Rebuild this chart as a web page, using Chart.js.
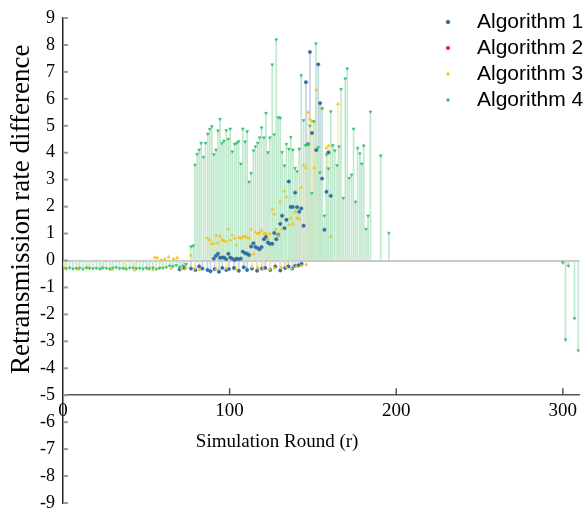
<!DOCTYPE html>
<html>
<head>
<meta charset="utf-8">
<script src="https://cdn.jsdelivr.net/npm/chart.js@4/dist/chart.umd.min.js"></script>
<style>
  html, body { margin: 0; padding: 0; background: #fff; }
  #wrap { position: relative; width: 584px; height: 512px; }
</style>
</head>
<body>
<div id="wrap"><canvas id="chart"></canvas></div>
<script>
// --- Data: [round, difference] ---
const labels = ['Algorithm 1', 'Algorithm 2', 'Algorithm 3', 'Algorithm 4'];
const xTitle = 'Simulation Round (r)';
const yTitle = 'Retransmission rate difference';
const xTicks = [0, 100, 200, 300];
const yTicks = [-9, -8, -7, -6, -5, -4, -3, -2, -1, 0, 1, 2, 3, 4, 5, 6, 7, 8, 9];

const alg1Points = [
    [70, -0.33], [72.8, -0.28], [76.8, -0.30], [79.5, -0.35], [81.7, -0.22], [83.7, -0.30],
    [86.7, -0.35], [88.5, -0.40], [91, -0.32], [93.6, -0.42], [95.6, -0.28], [98, -0.35],
    [99.6, -0.32], [102.6, -0.28], [105.5, -0.38], [108.5, -0.25], [110.5, -0.35], [113.4, -0.30],
    [116.5, -0.38], [119.4, -0.30], [121.4, -0.28], [124.4, -0.35], [127.4, -0.22], [130.4, -0.37],
    [133.3, -0.28], [135.3, -0.22], [137.5, -0.30], [139.3, -0.20], [141.3, -0.18], [143.2, -0.12],
    [90.5, 0.07], [91.7, 0.17], [93.0, 0.25], [94.2, 0.10], [95.4, 0.11], [96.6, 0.11],
    [97.9, 0.05], [99.2, 0.25], [100.4, 0.11], [101.6, 0.07], [103.0, 0.02], [104.2, 0.07],
    [105.4, 0.05], [106.7, 0.07], [107.9, 0.33], [109.3, 0.27], [110.5, 0.25], [111.7, 0.20],
    [112.9, 0.52], [114.3, 0.64], [115.5, 0.50], [116.8, 0.46], [118.0, 0.42], [119.2, 0.50],
    [120.6, 0.79], [121.8, 0.87], [123.0, 0.67], [124.2, 0.62], [125.6, 0.62], [126.8, 1.02],
    [128.0, 0.79], [129.2, 0.95], [130.4, 1.36], [131.5, 1.66], [132.9, 1.20], [134.1, 1.51],
    [135.5, 2.93], [136.7, 1.99], [137.9, 1.99], [139.3, 2.52], [140.5, 1.98], [141.8, 1.81],
    [143.0, 1.93], [144.4, 1.29], [145.8, 6.62], [147.0, 4.32], [148.2, 7.74], [149.4, 4.73],
    [152.0, 4.10], [153.2, 7.28], [154.3, 5.84], [155.5, 3.04], [156.9, 1.14], [158.1, 2.55],
    [159.3, 4.01], [160.7, 2.40]
];

const alg2Points = [];

const alg3Points = [
    [1, -0.30], [9, -0.33], [15, -0.28], [23, -0.31], [29, -0.34], [37, -0.30], [43, -0.36],
    [51, -0.32], [54, -0.35], [58, -0.26], [65, -0.30], [71, -0.30], [73.8, -0.28], [79, -0.30],
    [82, -0.35], [92, -0.32], [98, -0.30], [104, -0.34], [113.5, -0.25], [117, -0.27], [120, -0.30],
    [124, -0.33], [127, -0.28], [131, -0.26], [134, -0.24], [137, -0.30], [140, -0.22], [143, -0.20],
    [146, -0.15],
    [55, 0.12], [56.5, 0.10], [59, 0.02], [61, 0.06], [63.3, 0.13], [66.4, 0.06], [68.5, 0.10],
    [76.6, 0.19], [86.7, 0.83], [88.0, 0.76], [89.2, 0.62], [90.5, 0.64], [91.8, 0.93],
    [93.0, 0.65], [94.2, 0.90], [95.4, 0.77], [96.6, 0.73], [98.0, 0.71], [99.2, 1.16],
    [100.4, 0.76], [101.6, 0.94], [103.0, 0.83], [104.2, 0.58], [105.4, 0.86], [106.7, 0.83],
    [107.9, 0.88], [109.3, 0.90], [110.5, 0.86], [111.7, 0.83], [112.9, 1.16], [114.3, 0.24],
    [115.5, 1.05], [116.8, 0.99], [118.0, 1.04], [119.2, 1.12], [120.6, 0.99], [121.8, 1.01],
    [123.0, 0.81], [124.2, 0.99], [125.6, 1.90], [126.8, 1.72], [128.0, 1.16], [129.2, 0.93],
    [130.4, 2.18], [131.5, 1.18], [132.9, 2.58], [134.1, 2.37], [135.5, 1.32], [136.7, 1.57],
    [137.9, 1.36], [139.3, 1.81], [140.5, 1.57], [141.8, 1.54], [143.0, 2.71], [144.4, 3.55],
    [145.6, 3.45], [147.0, 5.50], [148.2, 5.24], [149.4, 5.17], [150.8, 3.44], [152.0, 6.33],
    [155.5, 5.65], [158.1, 4.18], [159.3, 4.27], [160.7, 0.89], [165.0, 5.81]
];

const alg4Points = [
    [0, -0.28], [2, -0.30], [4, -0.27], [6, -0.31], [8, -0.29], [10, -0.28], [12, -0.32],
    [14, -0.27], [16, -0.29], [18, -0.30], [20, -0.28], [22, -0.31], [24, -0.27], [26, -0.29],
    [28, -0.31], [30, -0.28], [32, -0.26], [34, -0.30], [36, -0.29], [38, -0.32], [40, -0.28],
    [42, -0.27], [44, -0.30], [46, -0.29], [48, -0.31], [50, -0.28], [52, -0.30], [54, -0.27],
    [56, -0.32], [58, -0.29], [60, -0.28], [62, -0.25], [64, -0.20], [66, -0.22], [68, -0.18],
    [70, -0.24], [72, -0.20], [74, -0.14],
    [76.8, 0.52], [78.2, 0.55], [79.2, 3.55], [80.5, 3.95], [81.7, 4.11], [82.9, 4.36],
    [84.3, 3.84], [85.5, 4.36], [86.9, 4.70], [88.1, 4.88], [89.3, 4.98], [90.5, 3.94],
    [91.8, 4.11], [93.0, 4.82], [94.2, 5.25], [95.4, 4.36], [96.6, 4.44], [98.0, 4.83],
    [99.2, 4.51], [100.4, 4.89], [101.6, 4.04], [103.0, 4.32], [104.2, 4.36], [105.4, 4.42],
    [106.7, 3.59], [107.9, 4.89], [109.3, 4.41], [110.5, 4.79], [111.7, 2.92], [112.9, 3.24],
    [114.3, 4.08], [115.5, 4.23], [116.8, 4.36], [118.0, 4.56], [119.2, 4.93], [120.6, 4.56],
    [121.8, 5.47], [123.0, 4.01], [124.2, 4.56], [125.6, 7.27], [126.8, 4.67], [128.0, 8.20],
    [129.2, 5.31], [130.4, 5.29], [131.5, 4.02], [132.9, 3.52], [134.1, 4.32], [135.5, 4.14],
    [136.7, 4.58], [137.9, 4.11], [139.3, 3.43], [140.5, 3.31], [141.8, 4.14], [143.0, 6.87],
    [144.4, 5.20], [145.6, 4.27], [147.0, 4.31], [148.2, 5.00], [149.4, 2.50], [150.6, 5.16],
    [151.8, 8.05], [153.2, 4.20], [154.2, 3.26], [155.6, 5.64], [156.9, 1.66], [158.2, 3.93],
    [159.3, 3.41], [160.7, 5.53], [161.9, 4.27], [163.1, 4.08], [164.5, 3.53], [165.7, 4.23],
    [166.9, 6.36], [168.2, 2.32], [169.4, 6.75], [170.6, 7.12], [171.8, 3.06], [173.2, 3.18],
    [174.4, 4.89], [175.6, 2.18], [176.8, 4.17], [178.2, 3.97], [179.3, 3.59], [180.5, 4.26],
    [181.9, 1.17], [183.1, 1.66], [184.5, 5.52], [190.7, 3.89], [195.6, 1.02],
    [300, -0.08], [301.6, -2.94], [303.3, -0.20], [307, -2.15], [309.3, -3.34]
];

// --- Styles ---
const serif = '"Liberation Serif", "Times New Roman", serif';
const sans = '"Liberation Sans", Arial, sans-serif';

// stemOrder: higher = drawn earlier (green stems end up on top)
const series = [
    { label: labels[0], points: alg1Points, color: '#2f6ea3', stem: '#c3d2e4', style: 'circle', rot: 0, stemOrder: 13 },
    { label: labels[1], points: alg2Points, color: '#e8231f', stem: '#f4b3b1', style: 'rect', rot: 0, stemOrder: 12 },
    { label: labels[2], points: alg3Points, color: '#f5c116', stem: '#fcebbd', style: 'triangle', rot: 0, stemOrder: 11 },
    { label: labels[3], points: alg4Points, color: '#33c06c', stem: '#bfe9cd', style: 'triangle', rot: 180, stemOrder: 10 },
];

const toXY = pts => pts.map(p => ({ x: p[0], y: p[1] }));

const stemSets = series.map(s => ({
    type: 'bar',
    label: s.label + ' stem',
    data: toXY(s.points),
    backgroundColor: s.stem,
    borderWidth: 0,
    barThickness: 1,
    grouped: false,
    order: s.stemOrder,
}));

const markerSets = series.map((s, i) => ({
    type: 'scatter',
    label: s.label,
    data: toXY(s.points),
    backgroundColor: s.color,
    borderColor: s.color,
    pointStyle: s.style,
    rotation: s.rot,
    pointRadius: 1.7,
    pointBorderWidth: 0.5,
    order: 4 - i,
}));

// --- Plugins: inward tick marks, axis titles, legend in the corner ---
const innerTicks = {
    id: 'innerTicks',
    afterDraw(chart) {
        const { ctx, chartArea, scales: { x, y } } = chart;
        ctx.save();
        ctx.strokeStyle = '#9a9a9a';
        ctx.lineWidth = 2;
        for (const v of yTicks) {
            const py = y.getPixelForValue(v);
            ctx.beginPath();
            ctx.moveTo(chartArea.left, py);
            ctx.lineTo(chartArea.left + 5, py);
            ctx.stroke();
        }
        ctx.strokeStyle = '#555';
        ctx.lineWidth = 1.5;
        const axisY = y.getPixelForValue(-5);
        for (const v of xTicks) {
            if (v === 0) continue;
            const px = x.getPixelForValue(v);
            ctx.beginPath();
            ctx.moveTo(px, axisY);
            ctx.lineTo(px, axisY - 7);
            ctx.stroke();
        }
        ctx.restore();
    },
};

// MATLAB-style axes box, titles centre on it rather than on the full canvas
const axisTitles = {
    id: 'axisTitles',
    afterDraw(chart) {
        const { ctx, scales: { x, y } } = chart;
        ctx.save();
        ctx.fillStyle = '#000';
        ctx.textAlign = 'center';
        ctx.textBaseline = 'middle';
        ctx.font = '19px ' + serif;
        ctx.fillText(xTitle, x.getPixelForValue(128.5), y.getPixelForValue(-5) + 47);
        ctx.font = '27px ' + serif;
        ctx.translate(22, y.getPixelForValue(1.9));
        ctx.rotate(-Math.PI / 2);
        ctx.fillText(yTitle, 0, 0);
        ctx.restore();
    },
};

const cornerLegend = {
    id: 'cornerLegend',
    afterDraw(chart) {
        const ctx = chart.ctx;
        ctx.save();
        ctx.font = '21px ' + sans;
        ctx.textBaseline = 'middle';
        series.forEach((s, i) => {
            const yy = 22 + i * 26;
            ctx.fillStyle = s.color;
            ctx.strokeStyle = s.color;
            if (Chart.helpers && Chart.helpers.drawPoint) {
                Chart.helpers.drawPoint(ctx, { pointStyle: s.style, rotation: s.rot, radius: 1.8, borderWidth: 0.5 }, 448, yy);
            } else {
                ctx.fillRect(446, yy - 2, 4, 4);
            }
            ctx.fillStyle = '#000';
            ctx.fillText(s.label, 477, yy);
        });
        ctx.restore();
    },
};

new Chart(document.getElementById('chart'), {
    type: 'scatter',
    data: { datasets: [...stemSets, ...markerSets] },
    options: {
        responsive: true,
        maintainAspectRatio: false,
        animation: false,
        layout: { padding: { top: 18, bottom: 9, left: 0, right: 0 } },
        plugins: {
            legend: { display: false },
            tooltip: { enabled: false },
        },
        scales: {
            x: {
                type: 'linear',
                min: 0,
                max: 310,
                offset: false,
                position: { y: -5 },
                afterBuildTicks: s => { s.ticks = xTicks.map(v => ({ value: v })); },
                grid: { display: false, drawTicks: false, offset: false },
                border: { display: true, color: '#555', width: 1.5 },
                ticks: { color: '#000', font: { family: serif, size: 19 }, padding: 4, autoSkip: false, maxRotation: 0 },
            },
            y: {
                type: 'linear',
                min: -9,
                max: 9,
                position: 'left',
                afterBuildTicks: s => { s.ticks = yTicks.map(v => ({ value: v })); },
                afterFit: s => { s.width = 63; s.paddingTop = 0; s.paddingBottom = 0; },
                grid: {
                    drawTicks: false,
                    lineWidth: 2,
                    color: c => (c.tick && c.tick.value === 0 ? '#c8c8c8' : 'rgba(0,0,0,0)'),
                },
                border: { display: true, color: '#222', width: 1.5 },
                ticks: { color: '#000', font: { family: serif, size: 18 }, padding: 8, autoSkip: false },
            },
        },
    },
    plugins: [innerTicks, axisTitles, cornerLegend],
});
</script>
</body>
</html>
